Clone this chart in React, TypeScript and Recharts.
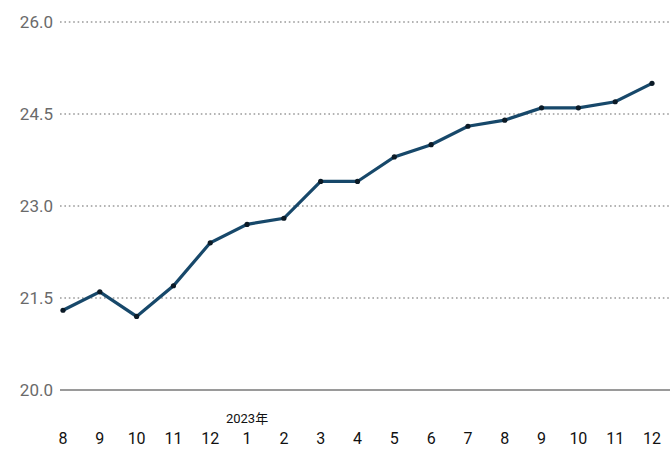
import { LineChart, Line, XAxis, YAxis, CartesianGrid } from 'recharts';

// Monthly values, Aug 2022 – Dec 2023
const months = ['8', '9', '10', '11', '12', '1', '2', '3', '4', '5', '6', '7', '8', '9', '10', '11', '12'];
const values = [21.3, 21.6, 21.2, 21.7, 22.4, 22.7, 22.8, 23.4, 23.4, 23.8, 24.0, 24.3, 24.4, 24.6, 24.6, 24.7, 25.0];
const yTicks = [20, 21.5, 23, 24.5, 26];
// year marker shown above the first month of the year
const yearLabels: Record<number, string> = { 5: '2023年' };

const chartData = months.map((month, i) => ({ key: `${i}`, month, value: values[i] }));

const FONT = 'Roboto, "Noto Sans CJK JP", sans-serif';

const MonthTick = ({ x, y, payload, index }: any) => {
  const row = chartData[index] ?? chartData[Number(payload.value)];
  const year = yearLabels[index];
  return (
    <g>
      {year && (
        <text x={x} y={y + 33} textAnchor="middle" fontSize={13} fill="#111" fontFamily={FONT}>
          {year}
        </text>
      )}
      <text x={x} y={y + 54} textAnchor="middle" fontSize={16} fill="#111" fontFamily={FONT}>
        {row ? row.month : ''}
      </text>
    </g>
  );
};

const DotMark = ({ cx, cy }: any) => <circle cx={cx} cy={cy} r={2.6} fill="#0b1a26" />;

export default function App() {
  return (
    <div style={{ position: 'absolute', left: 0, top: 0, background: '#fff' }}>
      <LineChart width={670} height={456} data={chartData} margin={{ top: 22, right: 0, left: 0, bottom: 0 }}>
        <CartesianGrid vertical={false} stroke="#9a9a9a" strokeDasharray="1.6 2.8" strokeWidth={1.5} />
        <XAxis
          dataKey="key"
          height={66}
          interval={0}
          padding={{ left: 3, right: 18 }}
          tickLine={false}
          tickSize={0}
          tickMargin={0}
          axisLine={{ stroke: '#9a9a9a', strokeWidth: 2 }}
          tick={<MonthTick />}
        />
        <YAxis
          width={60}
          domain={[20, 26]}
          ticks={yTicks}
          interval={0}
          axisLine={false}
          tickLine={false}
          tickSize={0}
          tickMargin={7}
          tickFormatter={(v: number) => v.toFixed(1)}
          tick={{ fill: '#6a6a6a', fontSize: 17, fontFamily: FONT }}
        />
        <Line
          type="linear"
          dataKey="value"
          stroke="#17486a"
          strokeWidth={3.2}
          dot={<DotMark />}
          activeDot={false}
          isAnimationActive={false}
        />
      </LineChart>
    </div>
  );
}
